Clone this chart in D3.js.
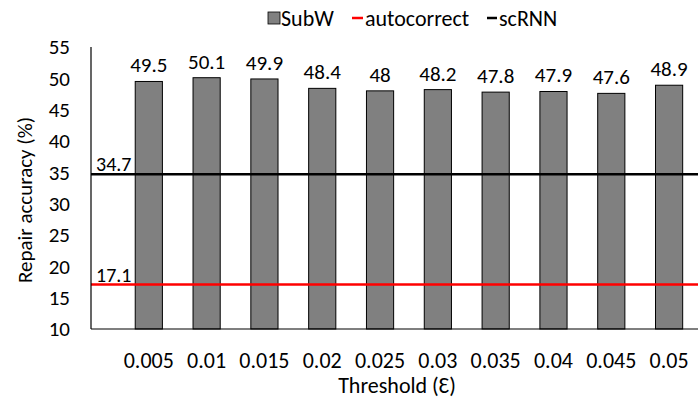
<!DOCTYPE html>
<html>
<head>
<meta charset="utf-8">
<script src="https://cdn.jsdelivr.net/npm/d3@7"></script>
<style>
  body { margin: 0; background: #fff; }
  text { font-family: Calibri, Carlito, Lato, "Open Sans", sans-serif; fill: #000; }
</style>
</head>
<body>
<svg id="chart" width="699" height="400"></svg>
<script>
// data
var thresholds = ['0.005', '0.01', '0.015', '0.02', '0.025', '0.03', '0.035', '0.04', '0.045', '0.05'];
var subwValues = [49.5, 50.1, 49.9, 48.4, 48, 48.2, 47.8, 47.9, 47.6, 48.9];
var autocorrectValue = 17.1;
var scrnnValue = 34.7;
var yTicks = [10, 15, 20, 25, 30, 35, 40, 45, 50, 55];

var svg = d3.select('#chart');

var plotLeft = 91, plotRight = 698, plotTop = 47, plotBottom = 329;
var step = (plotRight - plotLeft) / 10.5;

var x = d3.scaleBand()
	.domain(thresholds)
	.range([plotLeft + step / 2, plotLeft + step * 10.5])
	.paddingInner(0.53)
	.paddingOuter(0.265);

var y = d3.scaleLinear().domain([10, 55]).range([plotBottom, plotTop]);

// y tick labels
svg.append('g').selectAll('text')
	.data(yTicks)
	.enter().append('text')
	.attr('x', 70)
	.attr('y', function(d) { return y(d); })
	.attr('dy', '0.35em')
	.attr('text-anchor', 'end')
	.style('font-size', '21px')
	.text(function(d) { return d; });

// bars
svg.append('g').selectAll('rect')
	.data(subwValues)
	.enter().append('rect')
	.attr('x', function(d, i) { return x(thresholds[i]); })
	.attr('y', function(d) { return y(d); })
	.attr('width', x.bandwidth())
	.attr('height', function(d) { return plotBottom - y(d); })
	.attr('fill', '#808080')
	.attr('stroke', '#000')
	.attr('stroke-width', 1);

// bar labels
svg.append('g').selectAll('text')
	.data(subwValues)
	.enter().append('text')
	.attr('x', function(d, i) { return x(thresholds[i]) + x.bandwidth() / 2; })
	.attr('y', function(d) { return y(d) - 9; })
	.attr('text-anchor', 'middle')
	.style('font-size', '21px')
	.text(function(d) { return d; });

// horizontal reference lines
var refLines = [
	{ value: scrnnValue, color: '#000' },
	{ value: autocorrectValue, color: '#ff0000' }
];
refLines.forEach(function(r) {
	svg.append('line')
		.attr('x1', plotLeft).attr('x2', plotRight)
		.attr('y1', y(r.value)).attr('y2', y(r.value))
		.attr('stroke', r.color)
		.attr('stroke-width', 2.5);
	svg.append('text')
		.attr('x', plotLeft + 5)
		.attr('y', y(r.value) - 3)
		.style('font-size', '20px')
		.text(r.value);
});

// axes lines
svg.append('line')
	.attr('x1', plotLeft).attr('x2', plotLeft)
	.attr('y1', plotTop).attr('y2', plotBottom)
	.attr('stroke', '#000').attr('stroke-width', 1.2);
svg.append('line')
	.attr('x1', plotLeft).attr('x2', plotRight)
	.attr('y1', plotBottom).attr('y2', plotBottom)
	.attr('stroke', '#000').attr('stroke-width', 1.2);

// x tick labels
svg.append('g').selectAll('text')
	.data(thresholds)
	.enter().append('text')
	.attr('x', function(d) { return x(d) + x.bandwidth() / 2; })
	.attr('y', 368)
	.attr('text-anchor', 'middle')
	.style('font-size', '22px')
	.text(function(d) { return d; });

// axis titles
svg.append('text')
	.attr('x', 397).attr('y', 393)
	.attr('text-anchor', 'middle')
	.style('font-size', '22px')
	.text('Threshold (Ɛ)');

svg.append('text')
	.attr('transform', 'translate(32,200) rotate(-90)')
	.attr('text-anchor', 'middle')
	.style('font-size', '21px')
	.text('Repair accuracy (%)');

// legend
var legend = svg.append('g').attr('transform', 'translate(0,18)');
legend.append('rect')
	.attr('x', 268).attr('y', -6).attr('width', 12).attr('height', 12)
	.attr('fill', '#808080').attr('stroke', '#000').attr('stroke-width', 0.8);
legend.append('text').attr('x', 281).attr('y', 8).style('font-size', '22px').text('SubW');
legend.append('line').attr('x1', 352).attr('x2', 363).attr('y1', 0).attr('y2', 0)
	.attr('stroke', '#ff0000').attr('stroke-width', 2.5);
legend.append('text').attr('x', 365).attr('y', 8).style('font-size', '22px').text('autocorrect');
legend.append('line').attr('x1', 487).attr('x2', 497).attr('y1', 0).attr('y2', 0)
	.attr('stroke', '#000').attr('stroke-width', 2.5);
legend.append('text').attr('x', 499).attr('y', 8).style('font-size', '22px').text('scRNN');
</script>
</body>
</html>
